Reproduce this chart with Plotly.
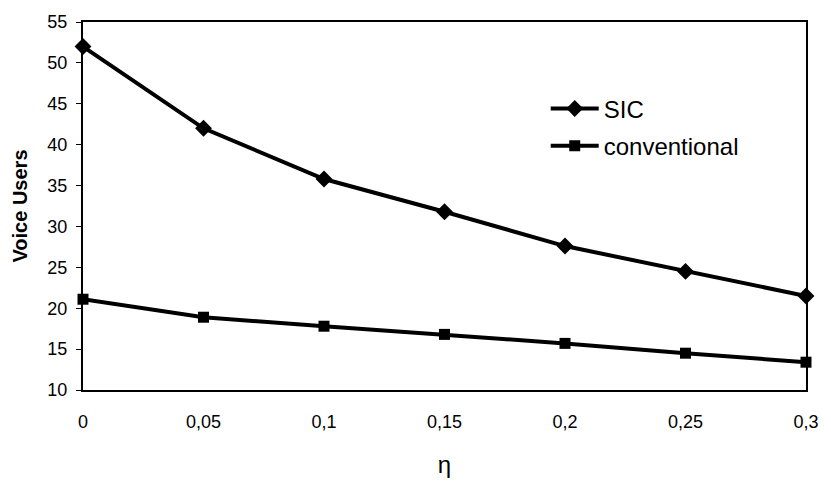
import plotly.graph_objects as go

eta = [0, 0.05, 0.1, 0.15, 0.2, 0.25, 0.3]
eta_labels = ["0", "0,05", "0,1", "0,15", "0,2", "0,25", "0,3"]
sic = [52, 42, 35.8, 31.8, 27.6, 24.5, 21.5]
conventional = [21.1, 18.9, 17.8, 16.8, 15.7, 14.5, 13.4]
y_ticks = [10, 15, 20, 25, 30, 35, 40, 45, 50, 55]

fig = go.Figure()
fig.add_trace(go.Scatter(x=eta, y=sic, name="SIC", mode="lines+markers",
                         legendgroup="a",
                         line=dict(color="black", width=4),
                         marker=dict(symbol="diamond", size=13, color="black"),
                         cliponaxis=False))
fig.add_trace(go.Scatter(x=eta, y=conventional, name="conventional", mode="lines+markers",
                         legendgroup="b",
                         line=dict(color="black", width=4),
                         marker=dict(symbol="square", size=11, color="black"),
                         cliponaxis=False))

fig.update_layout(
    width=831, height=486,
    margin=dict(l=83, r=15, t=17, b=96),
    paper_bgcolor="white", plot_bgcolor="white",
    font=dict(family="Liberation Sans, Arial", color="black", size=18),
    showlegend=True,
    legend=dict(x=0.64, y=0.825, xanchor="left", yanchor="top",
                bgcolor="rgba(0,0,0,0)", font=dict(size=24), tracegroupgap=3,
                itemwidth=48),
)
fig.update_xaxes(range=[0, 0.3], tickvals=eta, ticktext=eta_labels,
                 showgrid=False, zeroline=False, showline=True, linecolor="black",
                 linewidth=2, mirror=True, ticks="", ticklabelstandoff=14,
                 tickfont=dict(size=18),
                 title=dict(text="η", font=dict(size=24), standoff=26))
fig.update_yaxes(range=[10, 55], tickvals=y_ticks,
                 showgrid=False, zeroline=False, showline=True, linecolor="black",
                 linewidth=2, mirror=True, ticks="outside", ticklen=5, tickcolor="black",
                 ticklabelstandoff=5, tickfont=dict(size=18),
                 title=dict(text="<b>Voice Users</b>", font=dict(size=20), standoff=14))

fig.write_html("out.html", config={"displayModeBar": False},
               post_script="document.body.style.margin='0';")
